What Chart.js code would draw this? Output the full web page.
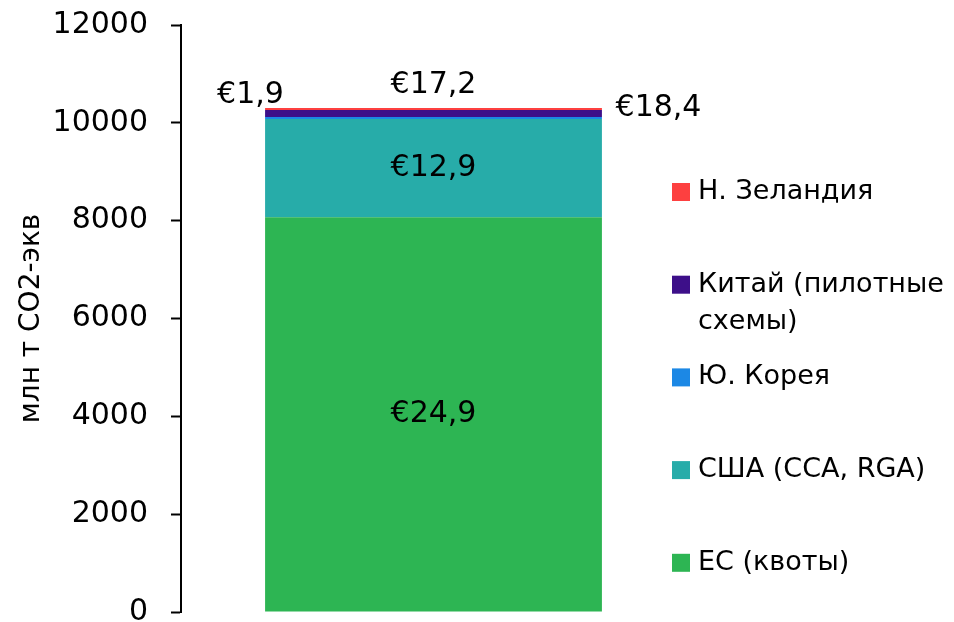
<!DOCTYPE html>
<html>
<head>
<meta charset="utf-8">
<script src="https://cdn.jsdelivr.net/npm/chart.js@4"></script>
<style>
  html, body { margin: 0; padding: 0; background: #fff; }
  #wrap { width: 954px; height: 622px; }
</style>
</head>
<body>
<div id="wrap"><canvas id="myChart"></canvas></div>
<script>
// emission trading schemes, bottom segment first
const regions = ['ЕС (квоты)', 'США (CCA, RGA)', 'Ю. Корея', 'Китай (пилотные\nсхемы)', 'Н. Зеландия'];
const volumes = [8070, 2010, 40, 140, 45];
const prices = ['€24,9', '€12,9', '€17,2', '€1,9', '€18,4'];
const colors = ['#2db553', '#27aca9', '#1c88e5', '#3d0f89', '#fd4040'];
const yTicks = [0, 2000, 4000, 6000, 8000, 10000, 12000];

const FONT = 'DejaVu Sans';

// where each price label sits relative to the middle of its segment
const labelShift = [[0, 0], [0, 0], [0, -33], [-183, -18], [225, -1]];

const priceLabels = {
    id: 'priceLabels',
    afterDatasetsDraw(chart) {
        const c = chart.ctx;
        c.save();
        c.font = '30px "' + FONT + '"';
        c.fillStyle = '#000';
        c.textAlign = 'center';
        c.textBaseline = 'middle';
        chart.data.datasets.forEach((ds, i) => {
            const bar = chart.getDatasetMeta(i).data[0];
            const p = bar.getProps(['x', 'y', 'base'], true);
            const mid = (p.y + p.base) / 2;
            c.fillText(prices[i], p.x + labelShift[i][0], mid + labelShift[i][1]);
        });
        c.restore();
    }
};

// legend on the right, top entry = top segment
const sideLegend = {
    id: 'sideLegend',
    afterDraw(chart) {
        const c = chart.ctx;
        c.save();
        c.font = '27px "' + FONT + '"';
        c.textBaseline = 'middle';
        const n = regions.length;
        for (let k = 0; k < n; k++) {
            const i = n - 1 - k;
            const y = 192 + k * 92.7;
            c.fillStyle = colors[i];
            c.fillRect(672, y - 9, 18, 18);
            c.fillStyle = '#000';
            regions[i].split('\n').forEach((line, j) => {
                c.fillText(line, 698, y + j * 37);
            });
        }
        c.restore();
    }
};

const ctx = document.getElementById('myChart');

const myChart = new Chart(ctx, {
    type: 'bar',
    data: {
        labels: [''],
        datasets: regions.map((r, i) => ({
            label: r,
            data: [volumes[i]],
            backgroundColor: colors[i],
            borderWidth: 0,
            barPercentage: 0.667,
            categoryPercentage: 1
        }))
    },
    options: {
        responsive: true,
        maintainAspectRatio: false,
        animation: false,
        layout: {
            padding: { top: 25, bottom: 10, right: 268, left: 0 }
        },
        plugins: {
            legend: { display: false },
            tooltip: { enabled: false }
        },
        scales: {
            x: {
                stacked: true,
                display: false
            },
            y: {
                stacked: true,
                min: 0,
                max: 12000,
                afterBuildTicks(axis) {
                    axis.ticks = yTicks.map(v => ({ value: v }));
                },
                afterFit(axis) {
                    axis.width = 181;
                    // let the layout padding alone decide top and bottom
                    axis.paddingTop = 0;
                    axis.paddingBottom = 0;
                },
                ticks: {
                    color: '#000',
                    padding: 23,
                    font: { family: FONT, size: 30 },
                    callback: v => String(v)
                },
                grid: {
                    drawOnChartArea: false,
                    drawTicks: true,
                    tickLength: 10,
                    tickWidth: 2,
                    tickColor: '#000'
                },
                border: { color: '#000', width: 2 },
                title: {
                    display: true,
                    text: 'млн т CO2-экв',
                    color: '#000',
                    font: { family: FONT, size: 28 },
                    padding: { top: 15, bottom: 0 }
                }
            }
        }
    },
    plugins: [priceLabels, sideLegend]
});
</script>
</body>
</html>
